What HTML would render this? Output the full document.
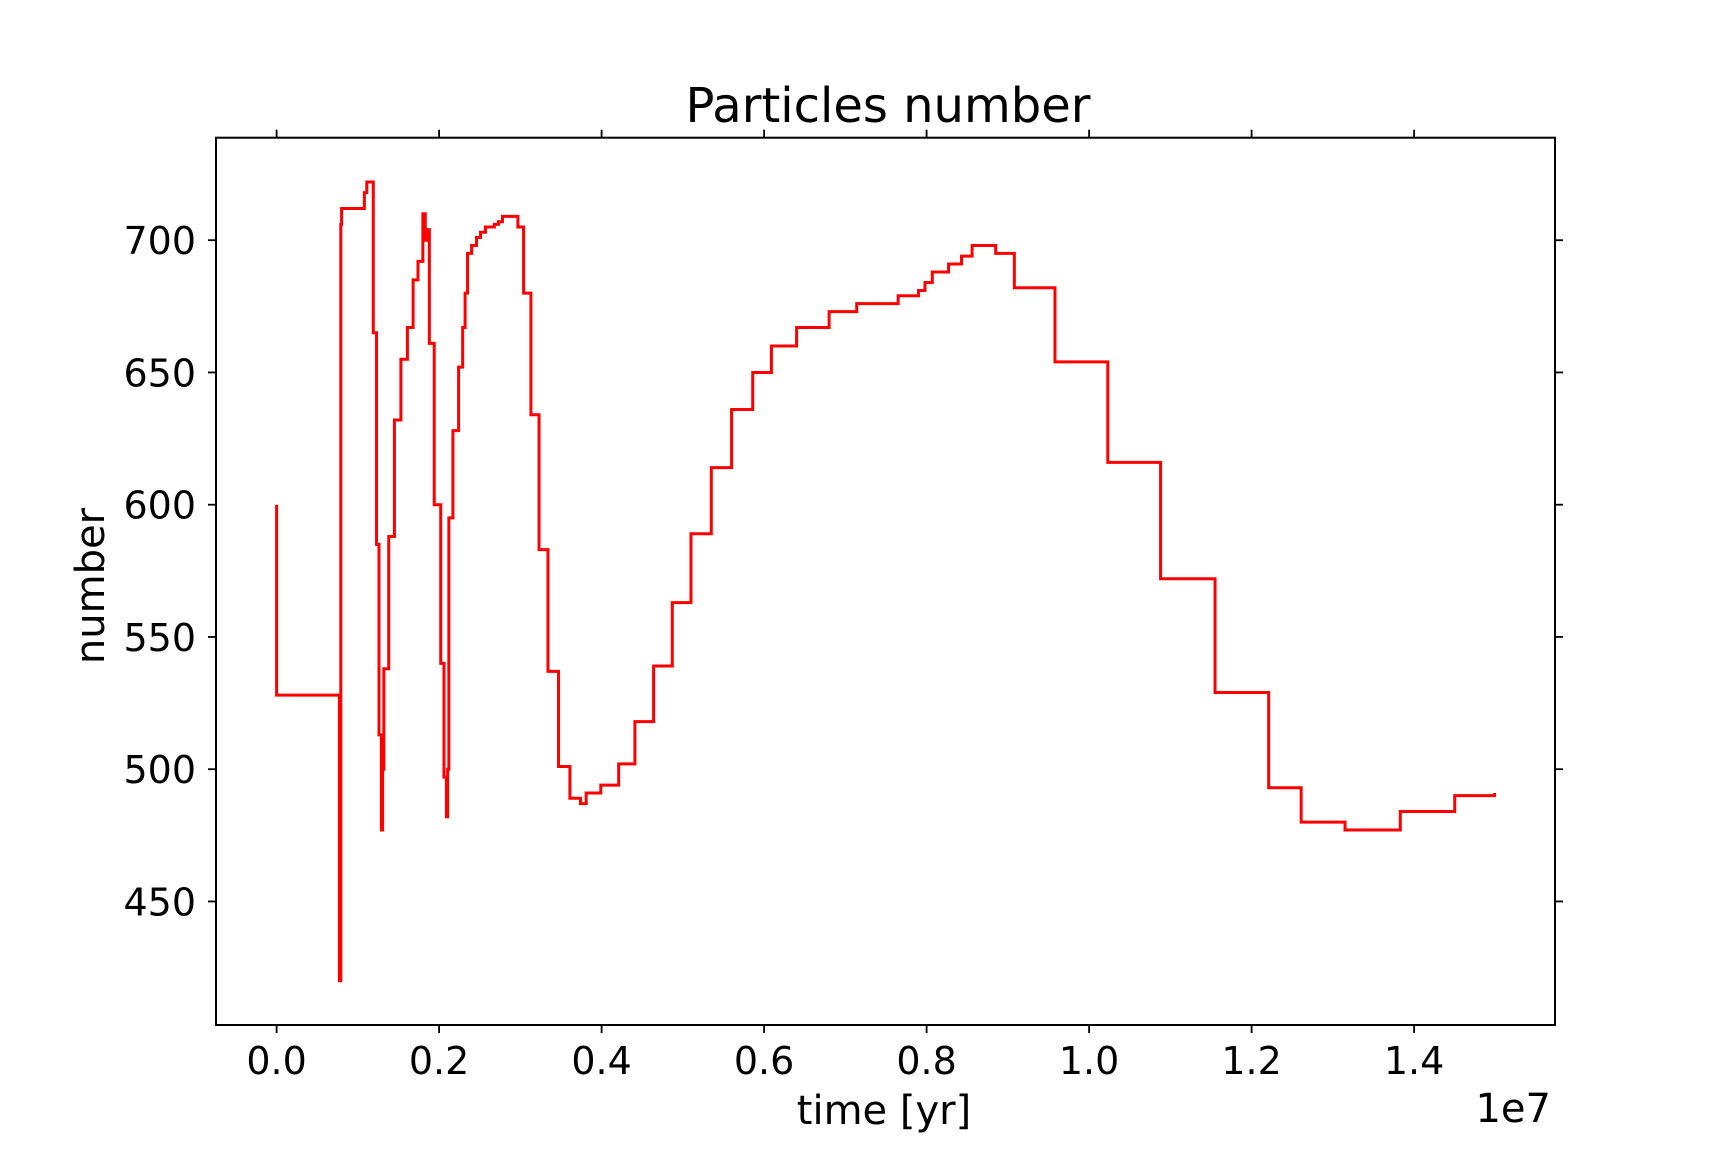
<!DOCTYPE html>
<html><head><meta charset="utf-8"><style>
html,body{margin:0;padding:0;background:#fff}
svg text{font-family:"DejaVu Sans","Liberation Sans",sans-serif;fill:#000}
</style></head><body>
<svg id="chart" width="1728" height="1152" viewBox="0 0 1728 1152" xmlns="http://www.w3.org/2000/svg">
<rect width="1728" height="1152" fill="#fff"/>
<g id="ticks"></g>
<path id="series" fill="none" stroke="#ff0000" stroke-width="3" stroke-linejoin="miter"/>
<rect x="216" y="137.7" width="1339" height="887.3" fill="none" stroke="#000" stroke-width="2"/>
<text x="888" y="122" font-size="48" text-anchor="middle">Particles number</text>
<text x="884" y="1124" font-size="40" text-anchor="middle">time [yr]</text>
<text x="1551" y="1122" font-size="40" text-anchor="end">1e7</text>
<text x="0" y="0" font-size="40" text-anchor="middle" transform="translate(104,586) rotate(-90)">number</text>
</svg>
<script>
// time in units of 1e5 yr; values = particle number (step-after)
const times = [0, 0, 7.73, 7.73, 7.9, 8.0, 8.3, 10.4, 10.8, 11.1, 11.9, 12.3, 12.6, 12.9, 13.05, 13.2, 13.8, 14.5, 15.3, 16.1, 16.8, 17.4, 18.0, 18.3, 18.6, 18.8, 19.4, 20.2, 20.6, 20.9, 21.05, 21.2, 21.7, 22.4, 22.9, 23.2, 23.5, 24.0, 24.6, 25.1, 25.7, 26.2, 26.8, 27.3, 27.8, 28.9, 29.7, 30.4, 31.3, 32.3, 33.4, 34.7, 36.1, 37.4, 38.1, 39.9, 42.1, 44.1, 46.4, 48.7, 51.0, 53.5, 56.0, 58.6, 60.9, 64.0, 68.0, 71.4, 76.5, 79.0, 79.8, 80.7, 82.7, 84.3, 85.6, 88.5, 90.8, 95.8, 102.3, 108.8, 115.5, 122.1, 126.1, 131.5, 138.3, 145.0, 149.9];
const values = [600, 528, 526, 420, 706, 712, 712, 712, 718, 722, 665, 585, 513, 477, 500, 538, 588, 632, 655, 667, 685, 692, 710, 700, 704, 661, 600, 540, 497, 482, 500, 595, 628, 652, 667, 680, 695, 698, 701, 703, 705, 705, 706, 707, 709, 709, 705, 680, 634, 583, 537, 501, 489, 487, 491, 494, 502, 518, 539, 563, 589, 614, 636, 650, 660, 667, 673, 676, 679, 681, 684, 688, 691, 694, 698, 695, 682, 654, 616, 572, 529, 493, 480, 477, 484, 490, 491];
const xTicks = [0, 0.2, 0.4, 0.6, 0.8, 1.0, 1.2, 1.4];
const xTickLabels = ["0.0", "0.2", "0.4", "0.6", "0.8", "1.0", "1.2", "1.4"];
const yTicks = [450, 500, 550, 600, 650, 700];

const X0 = 276.6, XPER = 812.5; // px per 1e7
const Y700 = 240.2, YPER = 2.645;  // px per unit
function xs(t){ return X0 + t/100 * XPER; }   // t in 1e5
function xt(v){ return X0 + v * XPER; }      // v in 1e7
function ys(v){ return Y700 - (v - 700) * YPER; }

let d = 'M' + xs(times[0]).toFixed(2) + ' ' + ys(values[0]).toFixed(2);
for (let i = 1; i < times.length; i++) {
  d += ' H' + xs(times[i]).toFixed(2) + ' V' + ys(values[i]).toFixed(2);
}
document.getElementById('series').setAttribute('d', d);

const NS = 'http://www.w3.org/2000/svg';
const g = document.getElementById('ticks');
const L = 216, R = 1555, T = 137.7, B = 1025;
function line(x1,y1,x2,y2){
  const l = document.createElementNS(NS,'line');
  l.setAttribute('x1',x1); l.setAttribute('y1',y1); l.setAttribute('x2',x2); l.setAttribute('y2',y2);
  l.setAttribute('stroke','#000'); l.setAttribute('stroke-width','1.8');
  
  
  g.appendChild(l);
}
xTicks.forEach((v,i)=>{
  const x = xt(v);
  line(x,B,x,B+8); line(x,T,x,T-8);
  const t = document.createElementNS(NS,'text');
  t.setAttribute('x',x); t.setAttribute('y',1074); t.setAttribute('font-size','38'); t.setAttribute('text-anchor','middle');
  t.textContent = xTickLabels[i];
  
  
  g.appendChild(t);
});
yTicks.forEach(v=>{
  const y = ys(v);
  line(L-8,y,L,y); line(R,y,R+8,y);
  const t = document.createElementNS(NS,'text');
  t.setAttribute('x',196); t.setAttribute('y',y+14); t.setAttribute('font-size','38'); t.setAttribute('text-anchor','end');
  t.textContent = String(v);
  
  
  g.appendChild(t);
});
</script>
</body></html>
